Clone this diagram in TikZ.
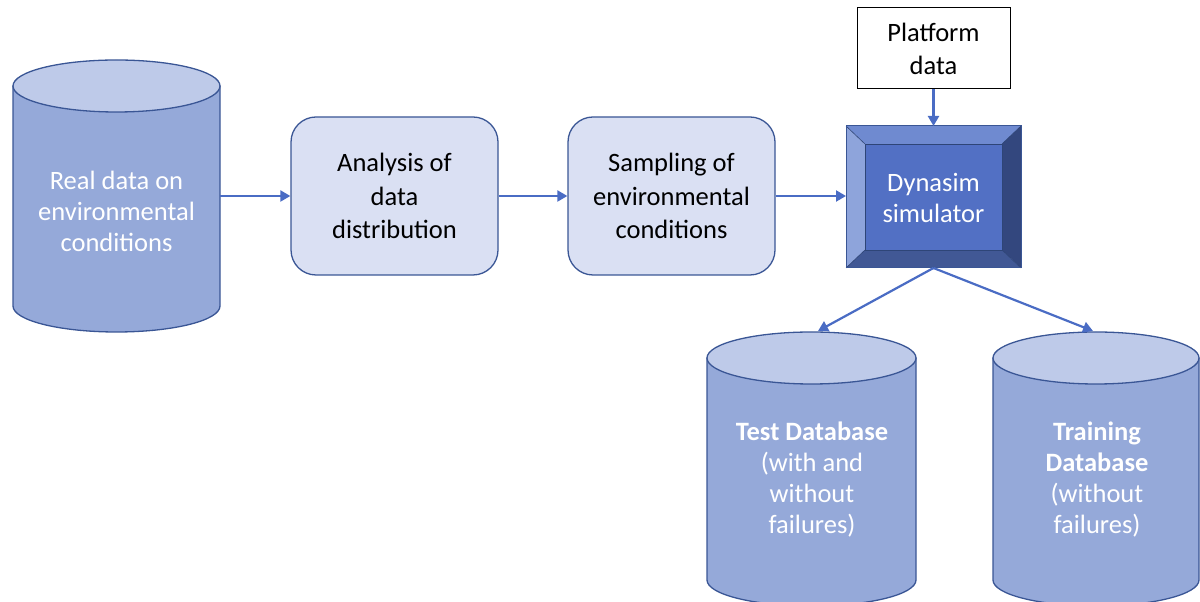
\documentclass[tikz,border=0pt]{standalone}
\usepackage{fontspec}
\setmainfont{Carlito}
\usetikzlibrary{arrows.meta}
\definecolor{edge}{HTML}{3A5695}
\definecolor{cylbodyc}{HTML}{95A9D9}
\definecolor{cyltopc}{HTML}{BECAE9}
\definecolor{boxfill}{HTML}{DAE0F3}
\definecolor{arrowc}{HTML}{4A6CC4}
\definecolor{bevtop}{HTML}{6F8AD0}
\definecolor{bevleft}{HTML}{8EA4DB}
\definecolor{bevright}{HTML}{33477E}
\definecolor{bevbot}{HTML}{415895}
\definecolor{bevin}{HTML}{5270C4}
\tikzset{
  cylbody/.style={fill=cylbodyc, draw=edge, line width=1.3pt, line join=round},
  cyltop/.style={fill=cyltopc, draw=edge, line width=1.3pt},
  wtext/.style={text=white, align=center, font=\fontsize{26.5}{31}\selectfont},
  stepbox/.style={draw=edge, fill=boxfill, line width=1.3pt, rounded corners=25pt,
     minimum width=207pt, minimum height=158pt, align=center,
     font=\fontsize{26.5}{33.5}\selectfont, inner sep=0pt},
  arr/.style={draw=arrowc, line width=2.2pt, -{Triangle[width=11pt,length=10pt]}},
  hitbox/.style={inner sep=0pt, outer sep=0pt}
}
\begin{document}
\begin{tikzpicture}[x=1pt,y=1pt]
\useasboundingbox (0,0) rectangle (1200,602);
\clip (0,0) rectangle (1200,602);
% left cylinder
\path[cylbody] (13,516) -- (13,296) arc[start angle=180,end angle=360,x radius=103.5,y radius=26] -- (220,516) -- cycle;
\path[cyltop] (116.5,516) ellipse[x radius=103.5,y radius=26];
\node[hitbox, minimum width=207pt, minimum height=272pt] (realcyl) at (116.5,406) {};
\node[wtext] (realtxt) at (116.5,391) {Real data on\\environmental\\conditions};
% boxes
\node[stepbox] (b1) at (394.5,406) {Analysis of\\data\\distribution};
\node[stepbox] (b2) at (671.5,406) {Sampling of\\environmental\\conditions};
% dynasim bevel box
\node[hitbox, minimum width=175pt, minimum height=142pt] (dyn) at (933.5,405) {};
\fill[bevtop] (846,476) -- (1021,476) -- (1002,458) -- (865,458) -- cycle;
\fill[bevleft] (846,476) -- (865,458) -- (865,352) -- (846,334) -- cycle;
\fill[bevright] (1021,476) -- (1021,334) -- (1002,352) -- (1002,458) -- cycle;
\fill[bevbot] (846,334) -- (1021,334) -- (1002,352) -- (865,352) -- cycle;
\fill[bevin] (865,352) rectangle (1002,458);
\draw[edge!80!black, line width=0.6pt] (846,476) -- (865,458) (1021,476) -- (1002,458) (846,334) -- (865,352) (1021,334) -- (1002,352);
\draw[edge!80!black, line width=0.6pt] (865,352) rectangle (1002,458);
\draw[edge, line width=1pt] (846,334) rectangle (1021,476);
\node[wtext] (dyntxt) at (933.5,404) {Dynasim\\simulator};
% platform data
\node[draw=black, fill=white, line width=1pt, minimum width=153pt, minimum height=81pt,
  align=center, inner sep=0pt, font=\fontsize{26.5}{33}\selectfont] (plat) at (933.5,553.5) {Platform\\data};
% bottom cylinders
\path[cylbody] (707,244) -- (707,22) arc[start angle=180,end angle=360,x radius=104.5,y radius=26] -- (916,244) -- cycle;
\path[cyltop] (811.5,244) ellipse[x radius=104.5,y radius=26];
\node[hitbox, minimum width=209pt, minimum height=270pt] (testcyl) at (811.5,135) {};
\node[wtext] (testtxt) at (812,122) {\textbf{Test Database}\\(with and\\without\\failures)};
\path[cylbody] (993,244) -- (993,22) arc[start angle=180,end angle=360,x radius=103,y radius=26] -- (1199,244) -- cycle;
\path[cyltop] (1096,244) ellipse[x radius=103,y radius=26];
\node[hitbox, minimum width=206pt, minimum height=270pt] (traincyl) at (1096,135) {};
\node[wtext] (traintxt) at (1097,122) {\textbf{Training}\\\textbf{Database}\\(without\\failures)};
\coordinate (testin) at (818,271);
\coordinate (trainin) at (1093,271);
% connectors
\draw[arr] (realcyl.east |- b1.west) -- (b1.west);
\draw[arr] (b1.east) -- (b2.west);
\draw[arr] (b2.east) -- (b2.east -| dyn.west);
\draw[arr] (plat.south) -- (dyn.north);
\draw[arr] (dyn.south) -- (testin);
\draw[arr] (dyn.south) -- (trainin);
\end{tikzpicture}
\end{document}
